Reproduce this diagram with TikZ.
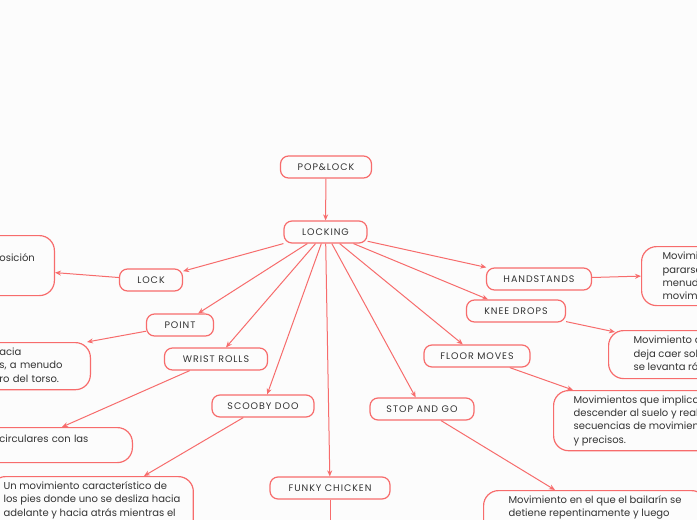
\documentclass[tikz,border=0pt]{standalone}
\usepackage{fontspec}
\setmainfont{Poppins}
\newfontfamily\capsfont[LetterSpace=10]{Poppins}
\usetikzlibrary{arrows.meta}
\definecolor{coral}{HTML}{F76C6C}
\definecolor{ink}{HTML}{333333}
\definecolor{paper}{HTML}{FCFCFC}
\newcommand\hid[1]{\leavevmode\llap{#1}}
\newcommand\descfont{\fontsize{10}{13.3}\selectfont\hyphenpenalty 10000\relax}

\begin{document}
\begin{tikzpicture}[x=1pt, y=-1pt,
  topic/.style={draw=coral, line width=1.2pt, rounded corners=8pt, fill=paper, minimum height=22pt, inner xsep=0pt, font=\capsfont\fontsize{9.5}{11}\selectfont, text=ink},
  desc/.style={draw=coral, line width=1.2pt, rounded corners=15pt, fill=paper, align=left, inner xsep=20pt, inner ysep=5pt, font=\descfont, text=ink},
  link/.style={draw=coral, line width=1pt, -{Stealth[length=6pt,width=5pt]}}]
\useasboundingbox (0,0) rectangle (697,520);
\fill[paper] (0,0) rectangle (697,520);
\clip (0,0) rectangle (697,520);

% root and main branch
\node[topic, minimum width=91pt] (poplock) at (326,167) {POP\&LOCK};
\node[topic, minimum width=83pt] (locking) at (325.5,232) {LOCKING};

% moves
\node[topic, minimum width=63pt] (lock) at (151,280) {LOCK};
\node[topic, minimum width=67pt] (point) at (180,325) {POINT};
\node[topic, minimum width=103pt] (wrist) at (216,359) {WRIST ROLLS};
\node[topic, minimum width=102pt] (scooby) at (263,406) {SCOOBY DOO};
\node[topic, minimum width=120pt] (funky) at (330,488) {FUNKY CHICKEN};
\node[topic, minimum width=104pt] (stop) at (422,409) {STOP AND GO};
\node[topic, minimum width=106pt] (floor) at (477,356) {FLOOR MOVES};
\node[topic, minimum width=99pt] (knee) at (516,311) {KNEE DROPS};
\node[topic, minimum width=105pt] (hands) at (539,279) {HANDSTANDS};

% descriptions
\node[desc, anchor=north east, minimum height=60pt, text width=35pt] (lockd) at (55,235)
  {\hid{Adoptar una p}osición\\\hid{fija.}};
\node[desc, anchor=north east, minimum height=47pt, text width=71pt] (pointd) at (91,342)
  {\hid{Señalar en una dirección h}acia\\\hid{con los brazo}s, a menudo\\\hid{partiendo desde el cent}ro del torso.};
\node[desc, anchor=north east, minimum height=35pt, text width=113pt] (wristd) at (133,427)
  {\hid{Movimientos }circulares con las\\\hid{muñecas.}};
\node[desc, anchor=north west, inner xsep=13pt] (scoobyd) at (-10,476)
  {Un movimiento característico de\\los pies donde uno se desliza hacia\\adelante y hacia atrás mientras el\\otro permanece fijo.};
\node[desc, anchor=north west, inner xsep=25pt] (stopd) at (483,490)
  {Movimiento en el que el bailarín se\\detiene repentinamente y luego\\continúa con el movimiento.};
\node[desc, anchor=north west, minimum height=60pt] (floord) at (553,390)
  {Movimientos que implican\\descender al suelo y realizar\\secuencias de movimientos rápidos\\y precisos.};
\node[desc, anchor=north west, minimum height=48pt, inner xsep=25pt] (kneed) at (608,330)
  {Movimiento donde el bailarín se\\deja caer sobre sus rodillas y\\se levanta rápidamente.};
\node[desc, anchor=north west, minimum height=59pt, inner xsep=21pt] (handd) at (641,246)
  {Movimientos que implican\\pararse sobre las manos, a\\menudo combinados con otros\\movimientos.};
\coordinate (funkyd) at (330,560);

% connectors
\draw[link] (poplock) -- (locking);
\foreach \n in {lock,point,wrist,scooby,funky,stop,floor,knee,hands}
  \draw[link] (locking) -- (\n);
\draw[link] (lock) -- ([yshift=-7pt]lockd.east);
\draw[link] (point) -- ([xshift=-4pt]pointd.north east);
\draw[link] (wrist) -- ([xshift=-71pt]wristd.north east);
\draw[link] (scooby) -- ([xshift=-50pt]scoobyd.north east);
\draw[link] (funky) -- (funkyd);
\draw[link] (stop) -- ([xshift=72pt]stopd.north west);
\draw[link] (floor) -- ([xshift=20pt]floord.north west);
\draw[link] (knee) -- ([xshift=7pt,yshift=-2pt]kneed.north west);
\draw[link] (hands) -- (handd.west);
\end{tikzpicture}
\end{document}
